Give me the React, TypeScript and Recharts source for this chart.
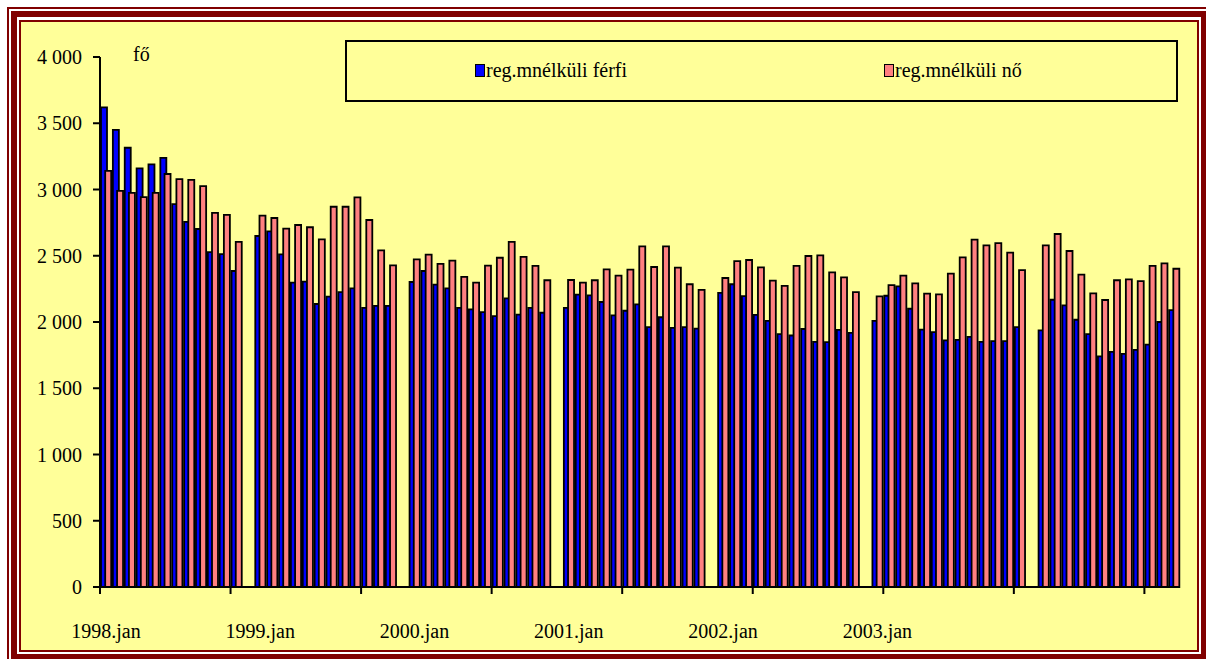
import React from 'react';
import { BarChart, Bar, XAxis, YAxis, Legend } from 'recharts';

// Monthly values (fő) — reg.mnélküli férfi (blue)
const male1998 = [3620, 3450, 3315, 3160, 3190, 3238, 2890, 2755, 2702, 2528, 2513, 2385];
const male1999 = [2649, 2684, 2511, 2297, 2305, 2136, 2192, 2226, 2254, 2106, 2121, 2121];
const male2000 = [2302, 2385, 2282, 2254, 2106, 2096, 2075, 2045, 2179, 2055, 2106, 2070];
const male2001 = [2106, 2206, 2201, 2151, 2050, 2085, 2133, 1962, 2036, 1955, 1962, 1950];
const male2002 = [2220, 2285, 2195, 2054, 2008, 1909, 1898, 1947, 1850, 1848, 1940, 1918];
const male2003 = [2008, 2198, 2269, 2100, 1942, 1924, 1862, 1865, 1887, 1850, 1855, 1855, 1962];
const male2004 = [1937, 2168, 2125, 2017, 1909, 1740, 1775, 1760, 1790, 1830, 2000, 2090];

// reg.mnélküli nő (pink)
const female1998 = [3140, 2989, 2974, 2943, 2974, 3117, 3079, 3072, 3026, 2823, 2808, 2604];
const female1999 = [2803, 2785, 2704, 2732, 2715, 2624, 2870, 2870, 2941, 2770, 2541, 2428];
const female2000 = [2473, 2508, 2438, 2463, 2340, 2297, 2425, 2485, 2604, 2491, 2423, 2315];
const female2001 = [2317, 2297, 2315, 2397, 2350, 2395, 2571, 2415, 2571, 2410, 2285, 2242];
const female2002 = [2332, 2460, 2468, 2413, 2312, 2272, 2423, 2498, 2503, 2375, 2337, 2226];
const female2003 = [2194, 2279, 2350, 2292, 2214, 2209, 2365, 2488, 2621, 2579, 2596, 2523, 2392];
const female2004 = [2579, 2664, 2536, 2357, 2216, 2166, 2315, 2322, 2309, 2423, 2443, 2402];

const groupLabels = ['1998.jan', '1999.jan', '2000.jan', '2001.jan', '2002.jan', '2003.jan', ''];
const yTicks = [0, 500, 1000, 1500, 2000, 2500, 3000, 3500, 4000];

const maleGroups = [male1998, male1999, male2000, male2001, male2002, male2003, male2004];
const femaleGroups = [female1998, female1999, female2000, female2001, female2002, female2003, female2004];

// Build category table: each year followed by one empty category
type Row = { key: string; label: string; ferfi: number | null; no: number | null };
const data: Row[] = [];
maleGroups.forEach((g, gi) => {
  g.forEach((v, i) => {
    data.push({ key: `c${data.length}`, label: i === 0 ? groupLabels[gi] : '', ferfi: v, no: femaleGroups[gi][i] });
  });
  if (gi < maleGroups.length - 1) {
    data.push({ key: `c${data.length}`, label: '', ferfi: null, no: null });
  }
});
const LABEL_EVERY = 13;
const TICK_EVERY = 11;

const FONT = '"Liberation Serif", "Times New Roman", serif';
const PLOT_W = 1080;
const BAND = PLOT_W / data.length;

const fmt = (v: number) =>
  v >= 1000 ? `${Math.floor(v / 1000)} ${String(v % 1000).padStart(3, '0')}` : String(v);

const XTick = (props: any) => {
  const { x, y, index, payload } = props;
  const idx = index ?? payload?.index ?? 0;
  const left = x - BAND / 2;
  return (
    <g>
      {idx % TICK_EVERY === 0 && (
        <line x1={left} y1={y} x2={left} y2={y + 7} stroke="#000" strokeWidth={2} />
      )}
      {idx % LABEL_EVERY === 0 && idx / LABEL_EVERY < groupLabels.length && groupLabels[idx / LABEL_EVERY] && (
        <text x={x} y={y + 51} textAnchor="middle" fontFamily={FONT} fontSize={20} fill="#000">
          {groupLabels[idx / LABEL_EVERY]}
        </text>
      )}
    </g>
  );
};

const LegendBox = (props: any) => {
  const items = props.payload || [];
  const lefts = [128, 537];
  return (
    <div
      style={{
        position: 'relative',
        width: 833,
        height: 62,
        border: '2px solid #000',
        boxSizing: 'border-box',
        fontFamily: FONT,
        fontSize: 20,
        color: '#000',
      }}
    >
      {items.map((it: any, i: number) => (
        <div
          key={it.value}
          style={{ position: 'absolute', left: lefts[i], top: 16, display: 'flex', alignItems: 'center', whiteSpace: 'nowrap' }}
        >
          <span
            style={{
              display: 'inline-block',
              width: 10,
              height: 13,
              background: it.color,
              border: '1.5px solid #000',
              boxSizing: 'border-box',
              marginRight: 1,
            }}
          />
          <span style={{ lineHeight: '24px' }}>{it.value}</span>
        </div>
      ))}
    </div>
  );
};

export default function App() {
  return (
    <div style={{ position: 'absolute', left: 0, top: 0, width: 1206, height: 659, overflow: 'hidden', background: '#fff' }}>
      <div style={{ position: 'absolute', left: 7, top: 7, width: 1206, height: 657, border: '2px solid #800000', boxSizing: 'border-box', background: '#fff' }} />
      <div style={{ position: 'absolute', left: 11, top: 11, width: 1196, height: 649, border: '6px solid #800000', boxSizing: 'border-box' }} />
      <div style={{ position: 'absolute', left: 19, top: 20, width: 1180, height: 632, border: '2px solid #800000', boxSizing: 'border-box', background: '#FFFF99' }} />
      <div style={{ position: 'absolute', left: 133, top: 43, fontFamily: FONT, fontSize: 20, color: '#000' }}>fő</div>
      <div style={{ position: 'absolute', left: 0, top: 0 }}>
        <BarChart
          width={1206}
          height={659}
          data={data}
          margin={{ top: 57, right: 26, bottom: 0, left: 0 }}
          barSize={6}
          barGap={-1.8}
          style={{ background: 'transparent' }}
        >
          <XAxis
            dataKey="key"
            type="category"
            interval={0}
            height={72}
            tickSize={0}
            tickMargin={0}
            tickLine={false}
            axisLine={{ stroke: '#000', strokeWidth: 2 }}
            tick={<XTick />}
          />
          <YAxis
            width={100}
            domain={[0, 4000]}
            ticks={yTicks}
            interval={0}
            tickSize={7}
            tickMargin={11}
            tickFormatter={fmt}
            axisLine={{ stroke: '#000', strokeWidth: 2 }}
            tickLine={{ stroke: '#000', strokeWidth: 2 }}
            tick={{ fill: '#000', fontSize: 20, fontFamily: FONT }}
          />
          <Legend
            verticalAlign="middle"
            align="center"
            layout="horizontal"
            wrapperStyle={{ position: 'absolute', left: 345, top: 40, width: 833, height: 62 }}
            content={<LegendBox />}
          />
          <Bar dataKey="ferfi" name="reg.mnélküli férfi" fill="#0000FF" stroke="#000" strokeWidth={1.8} isAnimationActive={false} />
          <Bar dataKey="no" name="reg.mnélküli nő" fill="#FF8080" stroke="#000" strokeWidth={1.8} isAnimationActive={false} />
        </BarChart>
      </div>
    </div>
  );
}
